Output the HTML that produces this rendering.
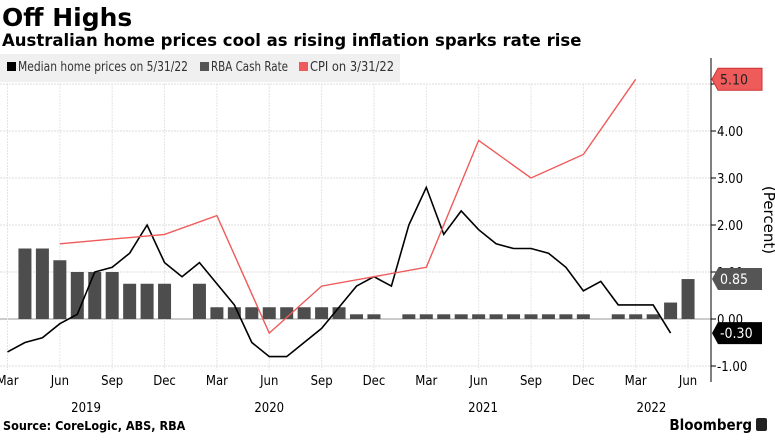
<!DOCTYPE html>
<html><head><meta charset="utf-8"><style>
body{margin:0;width:775px;height:435px;background:#fff;overflow:hidden;font-family:"Liberation Sans",sans-serif}
</style></head><body>
<svg id="chart" width="775" height="435" xmlns="http://www.w3.org/2000/svg">
<text x="2" y="26" font-size="25" font-weight="bold" font-family="DejaVu Sans, Liberation Sans, sans-serif">Off Highs</text>
<text x="2" y="46" font-size="16.5" font-weight="bold" font-family="DejaVu Sans, Liberation Sans, sans-serif">Australian home prices cool as rising inflation sparks rate rise</text>
<rect x="0" y="54" width="400" height="28" fill="#f0f0f0"/>
<g font-size="13" font-family="DejaVu Sans Condensed, Liberation Sans, sans-serif" fill="#333">
<rect x="7" y="62" width="9" height="9" fill="#000"/>
<text x="18" y="71" textLength="170" lengthAdjust="spacingAndGlyphs">Median home prices on 5/31/22</text>
<rect x="200" y="62" width="9" height="9" fill="#555"/>
<text x="211" y="71" textLength="77" lengthAdjust="spacingAndGlyphs">RBA Cash Rate</text>
<rect x="299" y="62" width="9" height="9" fill="#ef5a5a"/>
<text x="310" y="71" textLength="84" lengthAdjust="spacingAndGlyphs">CPI on 3/31/22</text>
</g>
<g id="grid"></g><g id="bars"></g><g id="lines"></g><g id="axes"></g>
<text x="764" y="220" font-size="15" transform="rotate(90 764 220)" text-anchor="middle" font-family="DejaVu Sans, Liberation Sans, sans-serif">(Percent)</text>
<text x="3" y="430" font-size="12.5" font-weight="bold" font-family="DejaVu Sans Condensed, Liberation Sans, sans-serif">Source: CoreLogic, ABS, RBA</text>
<text x="752" y="430" font-size="15" font-weight="bold" text-anchor="end" font-family="DejaVu Sans Condensed, Liberation Sans, sans-serif">Bloomberg</text>
<rect x="756" y="418" width="11" height="13" rx="2" fill="#222"/>
</svg>
<script>
const homePrices=[-0.7,-0.5,-0.4,-0.1,0.1,1.0,1.1,1.4,2.0,1.2,0.9,1.2,0.75,0.3,-0.5,-0.8,-0.8,-0.5,-0.2,0.25,0.7,0.9,0.7,2.0,2.8,1.8,2.3,1.9,1.6,1.5,1.5,1.4,1.1,0.6,0.8,0.3,0.3,0.3,-0.3];
const cashRate=[null,1.5,1.5,1.25,1.0,1.0,1.0,0.75,0.75,0.75,null,0.75,0.25,0.25,0.25,0.25,0.25,0.25,0.25,0.25,0.1,0.1,null,0.1,0.1,0.1,0.1,0.1,0.1,0.1,0.1,0.1,0.1,0.1,null,0.1,0.1,0.1,0.35,0.85];
const cpiMonths=[3,6,9,12,15,18,21,24,27,30,33,36];
const cpiValues=[1.6,1.7,1.8,2.2,-0.3,0.7,0.9,1.1,3.8,3.0,3.5,5.1];
const yTicks=[-1,0,1,2,3,4,5];
const xTickLabels=["Mar","Jun","Sep","Dec","Mar","Jun","Sep","Dec","Mar","Jun","Sep","Dec","Mar","Jun"];
const yearLabels=["2019","2020","2021","2022"];
const yearMonths=[4.5,15,27.25,36.9];
const NS="http://www.w3.org/2000/svg";
const X=m=>7.5+m*17.45, Y=v=>319-v*47;
function mk(t,a,p){const e=document.createElementNS(NS,t);for(const k in a)e.setAttribute(k,a[k]);p.appendChild(e);return e;}
const grid=document.getElementById('grid'),bars=document.getElementById('bars'),lines=document.getElementById('lines'),axes=document.getElementById('axes');
yTicks.forEach(v=>{
 const l=mk('line',{x1:0,x2:711,y1:Y(v),y2:Y(v),stroke:v===0?'#999':'#ddd','stroke-width':1,'stroke-dasharray':v===0?'':'2,1'},grid);
 
 
 const tk=mk('line',{x1:711,x2:716,y1:Y(v),y2:Y(v),stroke:'#000'},axes);
 
 
 const t=mk('text',{x:717,y:Y(v)+5,'font-size':13,'font-family':'DejaVu Sans Condensed, Liberation Sans, sans-serif'},axes);
 t.textContent=(v<0?'-':'')+Math.abs(v).toFixed(2);
 
 
});
xTickLabels.forEach((s,i)=>{
 const m=i*3;
 const l=mk('line',{x1:X(m),x2:X(m),y1:84,y2:370,stroke:'#e4e4e4','stroke-dasharray':'2,1'},grid);
 
 
 const t=mk('text',{x:X(m),y:385,'font-size':13,'text-anchor':'middle','font-family':'DejaVu Sans Condensed, Liberation Sans, sans-serif'},axes);
 t.textContent=s;
 
 
});
yearLabels.forEach((s,i)=>{
 const t=mk('text',{x:X(yearMonths[i]),y:412,'font-size':13,'text-anchor':'middle','font-family':'DejaVu Sans Condensed, Liberation Sans, sans-serif'},axes);
 t.textContent=s;
 
 
});
const ax=mk('line',{x1:711,x2:711,y1:58,y2:382,stroke:'#000'},axes);


cashRate.forEach((v,i)=>{
 if(v===null)return;
 const r=mk('rect',{x:X(i)-6.5,y:Y(v),width:13,height:Y(0)-Y(v),fill:'#4d4d4d'},bars);
 
 
});
const hp=mk('polyline',{points:homePrices.map((v,i)=>X(i)+','+Y(v)).join(' '),fill:'none',stroke:'#000','stroke-width':1.6},lines);


const cp=mk('polyline',{points:cpiValues.map((v,i)=>X(cpiMonths[i])+','+Y(v)).join(' '),fill:'none',stroke:'#ef5a5a','stroke-width':1.4},lines);


function flag(v,txt,bg,fg,name){
 const y=Y(v);
 const p=mk('polygon',{points:`712,${y} 718,${y-11} 762,${y-11} 762,${y+11} 718,${y+11}`,fill:bg,stroke:name==='cpi-value-flag'?'#c33':'none'},axes);
 
 
 const t=mk('text',{x:720,y:y+5,'font-size':14,fill:fg,'font-family':'DejaVu Sans Condensed, Liberation Sans, sans-serif'},axes);
 t.textContent=txt;
 
 
}
flag(cpiValues[cpiValues.length-1],cpiValues[cpiValues.length-1].toFixed(2),'#ef5a5a','#222','cpi-value-flag');
flag(cashRate[cashRate.length-1],cashRate[cashRate.length-1].toFixed(2),'#555','#fff','cash-rate-value-flag');
flag(homePrices[homePrices.length-1],homePrices[homePrices.length-1].toFixed(2),'#000','#fff','home-prices-value-flag');
</script>
</body></html>
